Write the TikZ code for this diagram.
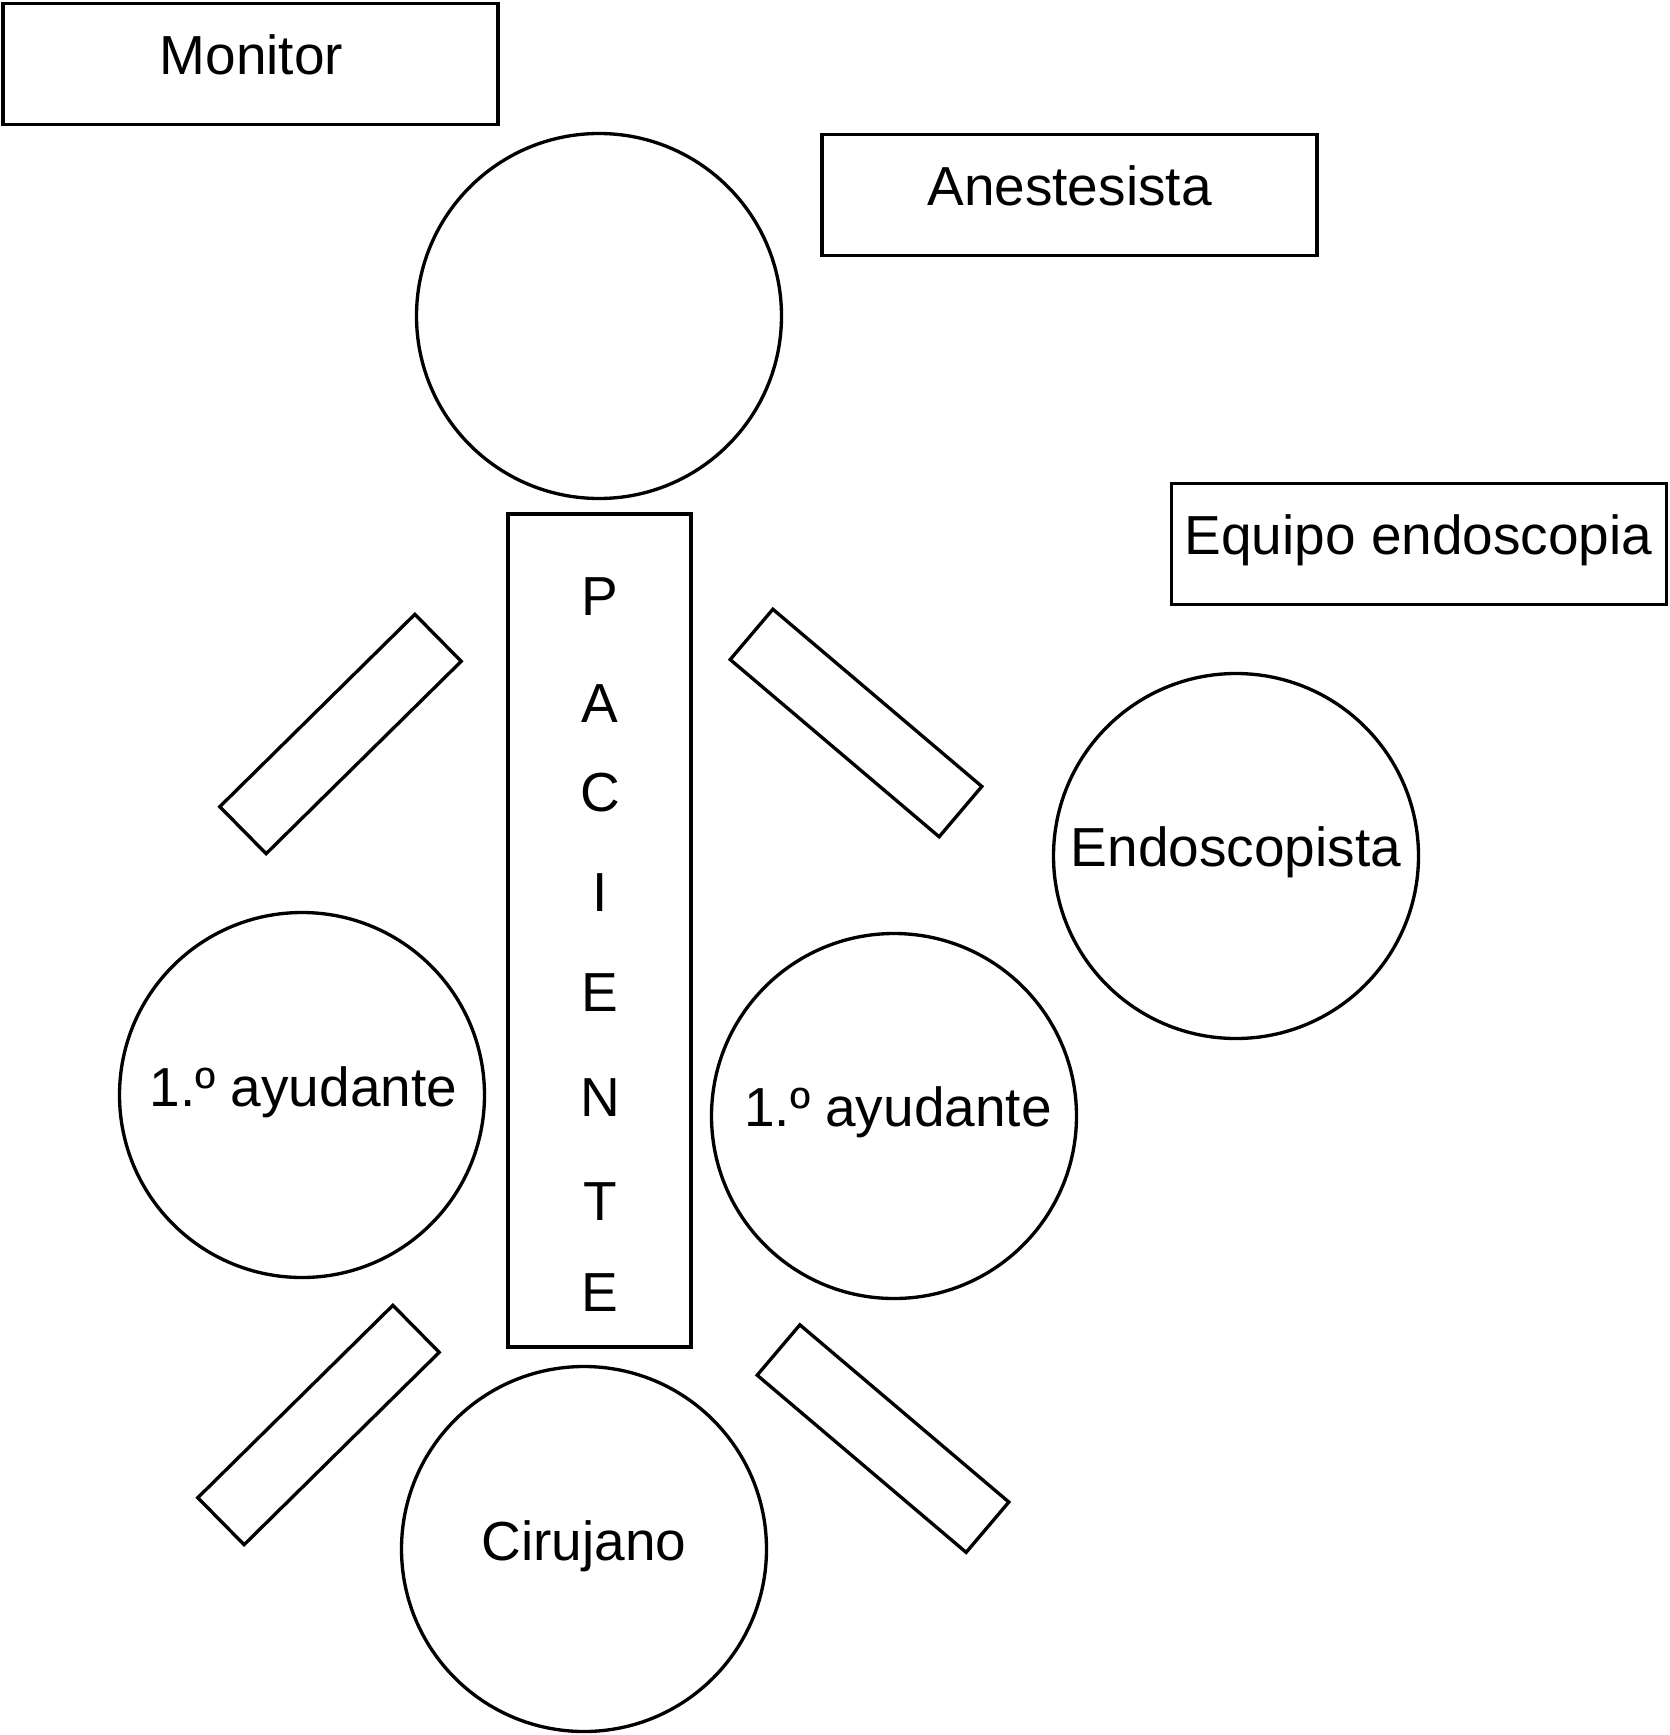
\documentclass[tikz,border=0pt]{standalone}
\usepackage{fontspec}
\setmainfont{Liberation Sans}
\begin{document}
\begin{tikzpicture}[x=0.3pt,y=-0.3pt, line width=1pt,
  box/.style={draw, rectangle, inner sep=0pt, minimum width=148.5pt, minimum height=36.3pt},
  seat/.style={draw, circle, inner sep=0pt, minimum size=109.5pt},
  bar/.style={draw, rectangle, inner sep=0pt, minimum width=82.2pt, minimum height=19.8pt},
  lbl/.style={anchor=base, inner sep=0pt, font=\fontsize{16.5pt}{20pt}\selectfont}]
\useasboundingbox (0,0) rectangle (1670,1735);
% boxes
\node[box] (monitor) at (250.5,64) {};
\node[box] (anest) at (1069.5,195) {};
\node[box] (equipo) at (1419,544) {};
\node[draw, rectangle, inner sep=0pt, minimum width=54.9pt, minimum height=249.9pt] (paciente) at (599.5,930.5) {};
% seats
\node[seat] (cabeza) at (599,316) {};
\node[seat] (endosc) at (1236,856) {};
\node[seat] (ayudi) at (302,1095) {};
\node[seat] (ayudd) at (894,1116) {};
\node[seat] (ciruj) at (584,1549) {};
% bars
\node[bar, rotate=44.6] (barul) at (340.5,734) {};
\node[bar, rotate=-40.3] (barur) at (856,723) {};
\node[bar, rotate=44.6] (barll) at (318.5,1425) {};
\node[bar, rotate=-40.3] (barlr) at (883,1438.6) {};
% labels
\node[lbl] (tmonitor) at (251.5,75) {Monitor};
\node[lbl] (tanest) at (1069.5,205) {Anestesista};
\node[lbl] (tequipo) at (1418.5,554) {Equipo endoscopia};
\node[lbl] (tendosc) at (1236,866) {Endoscopista};
\node[lbl] (tayudi) at (303.4,1106) {1.º ayudante};
\node[lbl] (tayudd) at (898,1126.7) {1.º ayudante};
\node[lbl] (tciruj) at (584,1560) {Cirujano};
% patient letters
\node[lbl] (p1) at (600,615) {P};
\node[lbl] (p2) at (600,722.7) {A};
\node[lbl] (p3) at (600,811) {C};
\node[lbl] (p4) at (600,911.7) {I};
\node[lbl] (p5) at (600,1011.7) {E};
\node[lbl] (p6) at (600,1116.7) {N};
\node[lbl] (p7) at (600,1220) {T};
\node[lbl] (p8) at (600,1311) {E};
\end{tikzpicture}
\end{document}
